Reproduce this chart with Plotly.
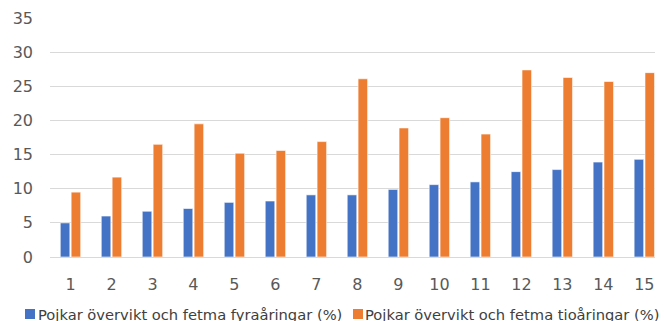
import plotly.graph_objects as go

# Age groups on the category axis
categories = [str(i) for i in range(1, 16)]

# Share of boys with overweight and obesity (%)
four_year_olds = [5.0, 6.0, 6.7, 7.1, 8.0, 8.2, 9.1, 9.1, 9.9, 10.6, 11.0, 12.5, 12.8, 13.9, 14.3]
ten_year_olds = [9.5, 11.7, 16.5, 19.5, 15.2, 15.6, 16.9, 26.1, 18.9, 20.4, 18.0, 27.4, 26.3, 25.7, 27.0]

series_names = [
    "Pojkar övervikt och fetma fyraåringar (%)",
    "Pojkar övervikt och fetma tioåringar (%)",
]

y_ticks = [0, 5, 10, 15, 20, 25, 30, 35]

BLUE = "#4472C4"
ORANGE = "#ED7D31"
FONT = "DejaVu Sans"
TEXT_GREY = "#595959"
LEGEND_TEXT = "#404040"

W, H = 664, 321
PLOT_L, PLOT_R, PLOT_T, PLOT_B = 50, 655, 18, 257


def px_x(px):
    """Convert a pixel column to paper x."""
    return (px - PLOT_L) / (PLOT_R - PLOT_L)


def px_y(py):
    """Convert a pixel row (from the top) to paper y."""
    return (PLOT_B - py) / (PLOT_B - PLOT_T)


colors = [BLUE, ORANGE]
series_values = [four_year_olds, ten_year_olds]

fig = go.Figure()
for name, values, color in zip(series_names, series_values, colors):
    fig.add_trace(go.Bar(
        x=list(range(1, 16)), y=values, name=name,
        marker=dict(color=color, line=dict(color="white", width=0.6)),
        showlegend=False,
    ))

# Legend drawn as a row of swatches with labels below the axis
legend_items = [(25, 37), (353, 364)]
for (sw_x, txt_x), name, color in zip(legend_items, series_names, colors):
    fig.add_shape(
        type="rect", xref="paper", yref="paper",
        x0=px_x(sw_x), x1=px_x(sw_x + 10), y0=px_y(319), y1=px_y(309),
        fillcolor=color, line=dict(width=0), layer="above",
    )
    fig.add_annotation(
        text=name, xref="paper", yref="paper",
        x=px_x(txt_x), y=px_y(314), xanchor="left", yanchor="middle",
        showarrow=False, xshift=-1,
        font=dict(family=FONT, size=14.7, color=LEGEND_TEXT),
    )

fig.update_layout(
    width=W, height=H,
    margin=dict(l=PLOT_L, r=W - PLOT_R, t=PLOT_T, b=H - PLOT_B, autoexpand=False),
    paper_bgcolor="white", plot_bgcolor="white",
    barmode="group", bargap=0.47, bargroupgap=0.12,
    font=dict(family=FONT, color=TEXT_GREY),
    showlegend=False,
)

fig.update_xaxes(
    range=[0.5, 15.26],
    tickmode="array", tickvals=list(range(1, 16)), ticktext=categories,
    tickfont=dict(family=FONT, size=16, color=TEXT_GREY),
    showgrid=False, zeroline=False, showline=False, ticks="", ticklen=0,
    ticklabelstandoff=16,
)
fig.update_yaxes(
    range=[0, 35],
    tickmode="array", tickvals=y_ticks, ticktext=[str(v) for v in y_ticks],
    tickfont=dict(family=FONT, size=16, color=TEXT_GREY),
    showgrid=True, gridcolor="#D9D9D9", gridwidth=1.3,
    zeroline=True, zerolinecolor="#D9D9D9", zerolinewidth=1.3,
    showline=False, ticks="", ticklabelstandoff=16,
)

fig.write_html("out.html")
